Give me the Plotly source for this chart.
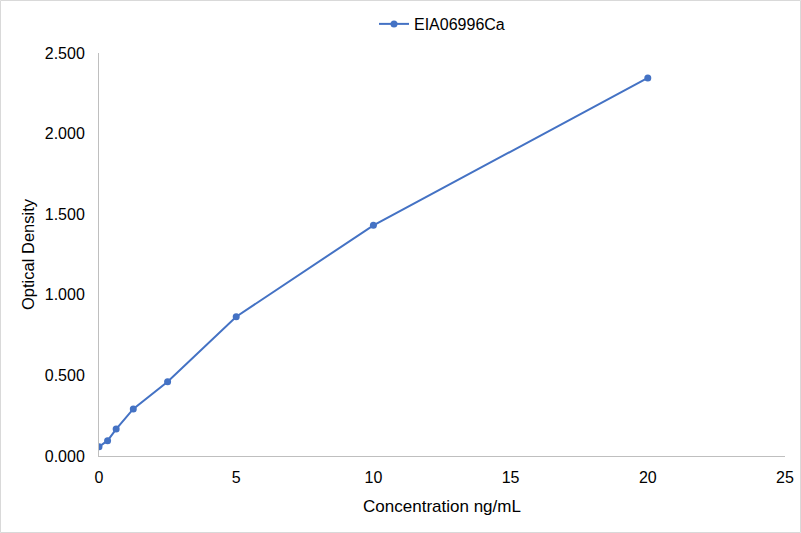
import plotly.graph_objects as go

# standard curve values
concentration = [0, 0.3125, 0.625, 1.25, 2.5, 5, 10, 20]
optical_density = [0.058, 0.095, 0.167, 0.292, 0.461, 0.864, 1.431, 2.345]

x_ticks = [0, 5, 10, 15, 20, 25]
y_ticks = [0, 0.5, 1.0, 1.5, 2.0, 2.5]

fig = go.Figure(
    data=[
        go.Scatter(
            x=concentration,
            y=optical_density,
            mode="lines+markers",
            name="EIA06996Ca",
            line=dict(color="#4472C4", width=2),
            marker=dict(color="#4472C4", size=7),
        )
    ]
)

fig.update_layout(
    width=801,
    height=533,
    paper_bgcolor="white",
    plot_bgcolor="white",
    font=dict(family="Arial, Liberation Sans", size=16, color="#000000"),
    margin=dict(l=99, r=16, t=53, b=77, autoexpand=False),
    showlegend=True,
    legend=dict(orientation="h", x=0.5, xanchor="center", yref="container", y=0.955,
                yanchor="middle", font=dict(size=16, color="#000000")),
    xaxis=dict(
        range=[0, 25],
        tickvals=x_ticks,
        showgrid=False,
        zeroline=False,
        showline=True,
        linecolor="#BFBFBF",
        linewidth=1,
        ticks="",
        automargin=False,
        ticklabelstandoff=7,
        title=dict(text="Concentration ng/mL",
                   font=dict(family="Arial, Liberation Sans", size=17, color="#000000"),
                   standoff=14),
    ),
    yaxis=dict(
        range=[0, 2.5],
        tickvals=y_ticks,
        tickformat=".3f",
        showgrid=False,
        zeroline=False,
        showline=True,
        linecolor="#BFBFBF",
        linewidth=1,
        ticks="",
        automargin=False,
        ticklabelstandoff=10,
        title=dict(text="Optical Density",
                   font=dict(family="Arial, Liberation Sans", size=16.5, color="#000000"),
                   standoff=5),
    ),
    shapes=[
        dict(type="rect", xref="paper", yref="paper", x0=-98.5 / 686, x1=1 + 15.5 / 686,
             y0=-76.5 / 403, y1=1 + 52.5 / 403, line=dict(color="#D9D9D9", width=1))
    ],
)

# drop the browser's default body margin so the figure sits at the page corner
fig.write_html(
    "out.html",
    config={"displayModeBar": False, "responsive": False},
    post_script="document.body.style.margin='0';document.body.style.overflow='hidden';",
)
